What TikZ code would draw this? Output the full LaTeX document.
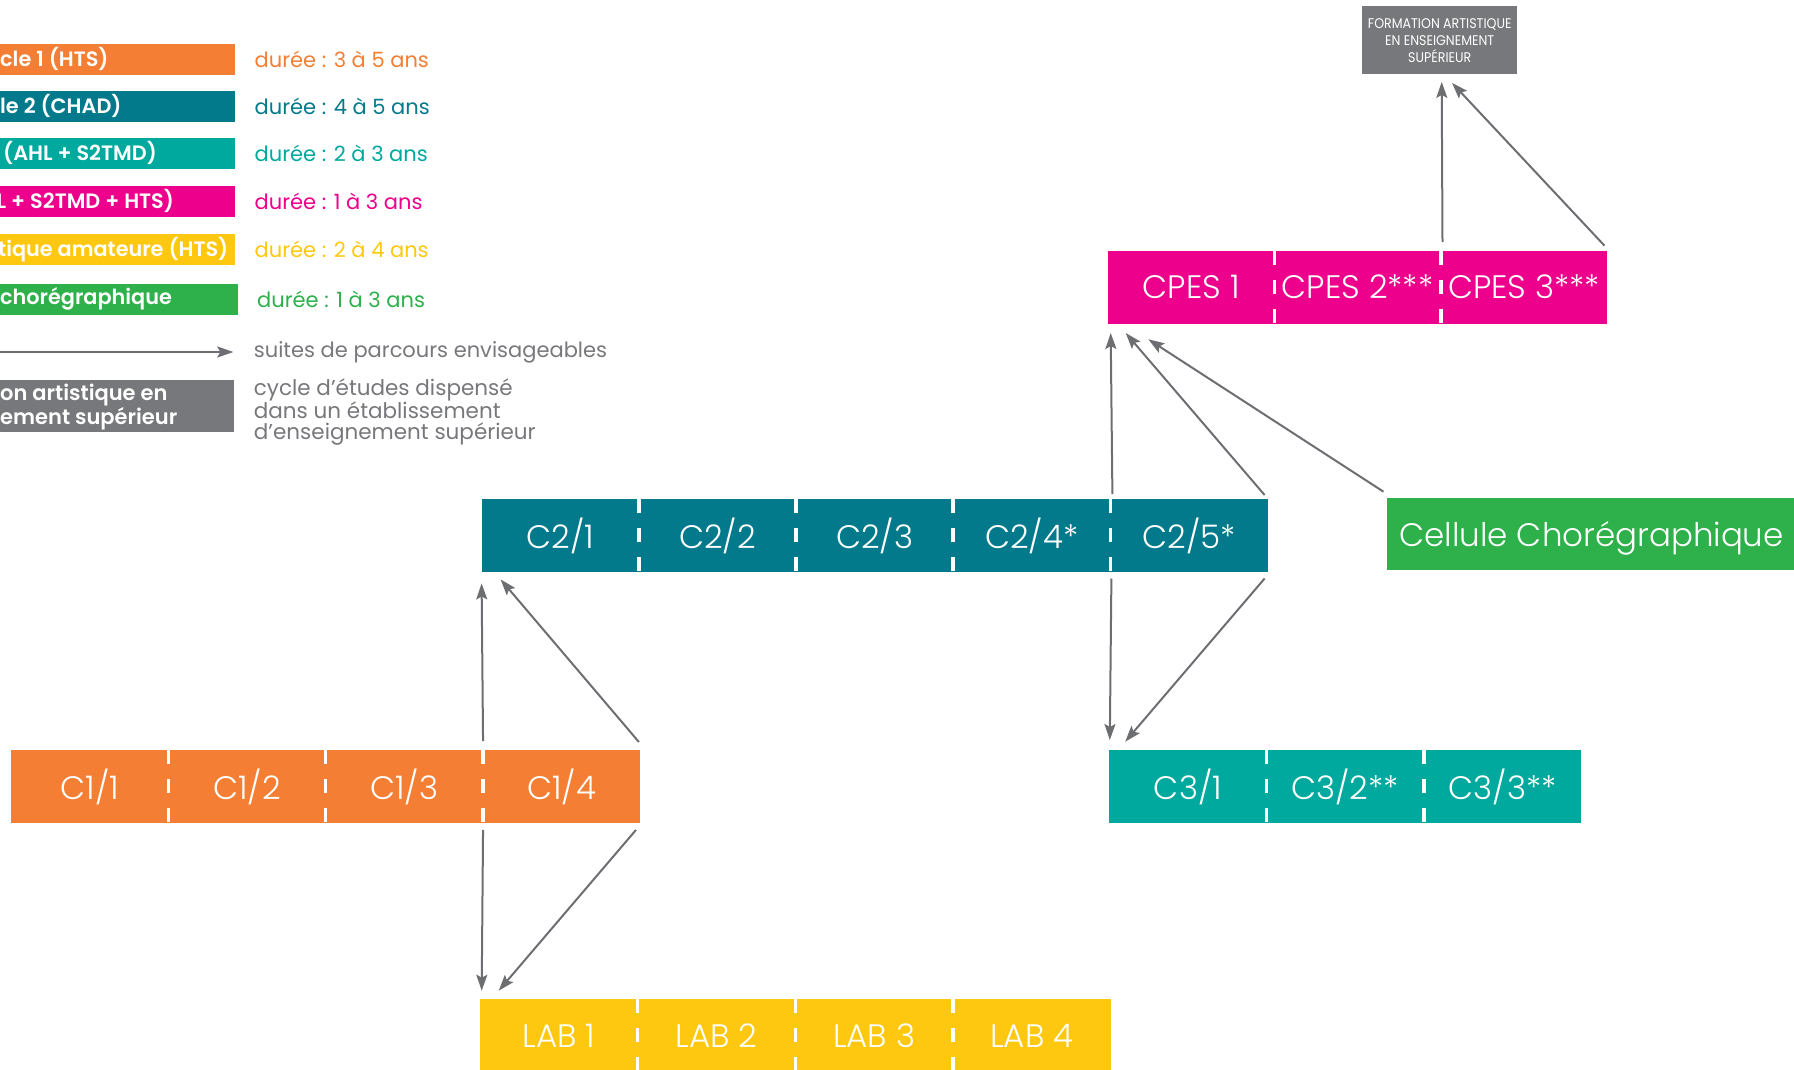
\documentclass[tikz,border=0pt]{standalone}
\usepackage{fontspec}
\setmainfont{Poppins}
\IfFontExistsTF{Poppins Light}{\newfontfamily\lightfont{Poppins Light}}{\newfontfamily\lightfont{Poppins}}
\IfFontExistsTF{Poppins SemiBold}{\newfontfamily\medfont{Poppins SemiBold}}{\IfFontExistsTF{Poppins Medium}{\newfontfamily\medfont{Poppins Medium}}{\newcommand{\medfont}{\bfseries}}}
\newfontfamily\condfont[FakeStretch=0.9]{Poppins}
\usetikzlibrary{arrows.meta,calc,backgrounds}
\definecolor{corange}{HTML}{F47F34}
\definecolor{cteal}{HTML}{027A8B}
\definecolor{cgteal}{HTML}{00A99D}
\definecolor{cmag}{HTML}{EC008C}
\definecolor{cyel}{HTML}{FDC80F}
\definecolor{cgreen}{HTML}{2EB04A}
\definecolor{cgray}{HTML}{77787B}
\definecolor{carrow}{HTML}{6D6E71}
\begin{document}
\begin{tikzpicture}[x=1pt,y=-1pt,
  cell/.style={rectangle, inner sep=0pt, minimum height=72.5pt, text=white, anchor=north west, font=\lightfont\fontsize{32.5}{32.5}\selectfont},
  divider/.style={white, line width=3.5pt, dash pattern=on 14pt off 15pt},
  flow/.style={draw=carrow, line width=2pt, -{Stealth[length=16pt,width=11pt,inset=3pt]}},
  legbar/.style={rectangle, inner sep=0pt, minimum height=30.7pt, anchor=north west},
  legin/.style={anchor=west, inner sep=0pt, text=white, font=\medfont\fontsize{20.8}{20.8}\selectfont},
  legout/.style={anchor=west, inner sep=0pt, font=\fontsize{21}{21}\selectfont}]
\useasboundingbox (0,0) rectangle (1794,1070);
\clip (0,0) rectangle (1794,1070);

% ---------- legend ----------
\node[legbar, fill=corange, minimum width=250pt] (lb1) at (-15,44) {};
\node[legbar, fill=cteal, minimum width=250pt] (lb2) at (-15,91) {};
\node[legbar, fill=cgteal, minimum width=250pt] (lb3) at (-15,138) {};
\node[legbar, fill=cmag, minimum width=250pt] (lb4) at (-15,186) {};
\node[legbar, fill=cyel, minimum width=250pt] (lb5) at (-15,234) {};
\node[legbar, fill=cgreen, minimum width=253pt] (lb6) at (-15,284) {};
\node[legin] (lt1) at (0,59.3) {cle 1 (HTS)};
\node[legin] (lt2) at (0,106.3) {le 2 (CHAD)};
\node[legin] (lt3) at (3,153.3) {(AHL + S2TMD)};
\node[legin] (lt4) at (-3.5,201.3) {L + S2TMD + HTS)};
\node[legin] (lt5) at (-2,249.3) {tique amateure (HTS)};
\node[legin] (lt6) at (0,299.3) {chorégraphique};
\node[legout, text=corange] (ld1) at (254.5,59.3) {durée : 3 à 5 ans};
\node[legout, text=cteal] (ld2) at (254.5,106.3) {durée : 4 à 5 ans};
\node[legout, text=cgteal] (ld3) at (254.5,153.3) {durée : 2 à 3 ans};
\node[legout, text=cmag] (ld4) at (254.5,201.3) {durée : 1 à 3 ans};
\node[legout, text=cyel] (ld5) at (254.5,249.3) {durée : 2 à 4 ans};
\node[legout, text=cgreen] (ld6) at (257,299.3) {durée : 1 à 3 ans};
\coordinate (la0) at (-5,352);
\coordinate (la1) at (233.3,352);
\draw[flow] (la0) -- (la1);
\node[legout, text=cgray] (ld7) at (253.7,352) {suites de parcours envisageables};
\node[legbar, fill=cgray, minimum width=249pt, minimum height=52.5pt] (lb8) at (-15,379.3) {};
\node[legin, align=left, font=\medfont\fontsize{21}{24}\selectfont] (lt8) at (0,407) {on artistique en\\ement supérieur};
\node[legout, align=left, text=cgray, font=\fontsize{21.5}{21.5}\selectfont] (ld8) at (253.7,412) {cycle d’études dispensé\\dans un établissement\\d’enseignement supérieur};

% ---------- cells ----------
\node[cell, minimum width=156.95pt] (c11) at (11,750) {C1/1};
\node[cell, minimum width=156.95pt] (c12) at (c11.north east) {C1/2};
\node[cell, minimum width=156.95pt] (c13) at (c12.north east) {C1/3};
\node[cell, minimum width=156.95pt] (c14) at (c13.north east) {C1/4};

\node[cell, minimum width=156.8pt] (c21) at (481.6,499) {C2/1};
\node[cell, minimum width=156.8pt] (c22) at (c21.north east) {C2/2};
\node[cell, minimum width=156.8pt] (c23) at (c22.north east) {C2/3};
\node[cell, minimum width=156.8pt] (c24) at (c23.north east) {C2/4*};
\node[cell, minimum width=156.8pt] (c25) at (c24.north east) {C2/5*};

\node[cell, minimum width=166pt] (p1) at (1108,250.7) {CPES 1};
\node[cell, minimum width=166pt] (p2) at (p1.north east) {CPES 2***};
\node[cell, minimum width=166pt] (p3) at (p2.north east) {CPES 3***};

\node[cell, minimum width=157pt] (c31) at (1109.2,750) {C3/1};
\node[cell, minimum width=157pt] (c32) at (c31.north east) {C3/2**};
\node[cell, minimum width=157pt] (c33) at (c32.north east) {C3/3**};

\node[cell, minimum width=157.25pt] (lab1) at (480,999) {LAB 1};
\node[cell, minimum width=157.25pt] (lab2) at (lab1.north east) {LAB 2};
\node[cell, minimum width=157.25pt] (lab3) at (lab2.north east) {LAB 3};
\node[cell, minimum width=157.25pt] (lab4) at (lab3.north east) {LAB 4};

\node[rectangle, fill=cgreen, anchor=north west, inner sep=0pt, minimum width=410pt, minimum height=72.7pt, text depth=0pt, text=white, font=\lightfont\fontsize{32.5}{32.5}\selectfont] (cell) at (1386.5,497.3) {Cellule Chorégraphique};

\node[rectangle, fill=cgray, inner sep=0pt, minimum width=155.4pt, minimum height=67.7pt] (top) at (1439.7,39.85) {};
\node[inner sep=0pt, text=white, align=center, font=\condfont\fontsize{14}{17}\selectfont] (toptxt) at (1439.7,41) {FORMATION ARTISTIQUE\\EN ENSEIGNEMENT\\SUPÉRIEUR};

\begin{scope}[on background layer]
\fill[corange] (c11.north west) rectangle (c14.south east);
\fill[cteal] (c21.north west) rectangle (c25.south east);
\fill[cmag] (p1.north west) rectangle (p3.south east);
\fill[cgteal] (c31.north west) rectangle (c33.south east);
\fill[cyel] (lab1.north west) rectangle (lab4.south east);
\end{scope}

\foreach \n in {c11,c12,c13,c21,c22,c23,c24,p1,p2,c31,c32,lab1,lab2,lab3}
  \draw[divider] (\n.north east) -- (\n.south east);

% ---------- connectors ----------
\draw[flow] ([yshift=9pt]c14.north west) -- ([yshift=-11.5pt]c21.south west);
\draw[flow] ([xshift=-1.5pt,yshift=8pt]c14.north east) -- ([xshift=19pt,yshift=-7.5pt]c21.south west);
\draw[flow] ([yshift=-7pt]c14.south west) -- ([xshift=1.7pt,yshift=8.3pt]lab1.north west);
\draw[flow] ([xshift=-4.4pt,yshift=-7pt]c14.south east) -- ([xshift=18.7pt,yshift=8.3pt]lab1.north west);
\draw[flow] ([xshift=1pt,yshift=-6.6pt]c25.south west) -- ([xshift=0.6pt,yshift=10pt]c31.north west);
\draw[flow] ([xshift=-3pt,yshift=-6.6pt]c25.south east) -- ([xshift=16pt,yshift=8.3pt]c31.north west);
\draw[flow] ([xshift=2pt,yshift=5pt]c25.north west) -- ([xshift=2.7pt,yshift=-9.4pt]p1.south west);
\draw[flow] ([xshift=-3pt,yshift=4pt]c25.north east) -- ([xshift=17.7pt,yshift=-9.4pt]p1.south west);
\draw[flow] ([xshift=-3pt,yshift=5.6pt]cell.north west) -- ([xshift=40.3pt,yshift=-15.7pt]p1.south west);
\draw[flow] ([xshift=1.7pt,yshift=8.7pt]p3.north west) -- ([xshift=2pt,yshift=-8pt]top.south);
\draw[flow] ([xshift=-2.7pt,yshift=5pt]p3.north east) -- ([xshift=12.3pt,yshift=-9pt]top.south);
\end{tikzpicture}
\end{document}
